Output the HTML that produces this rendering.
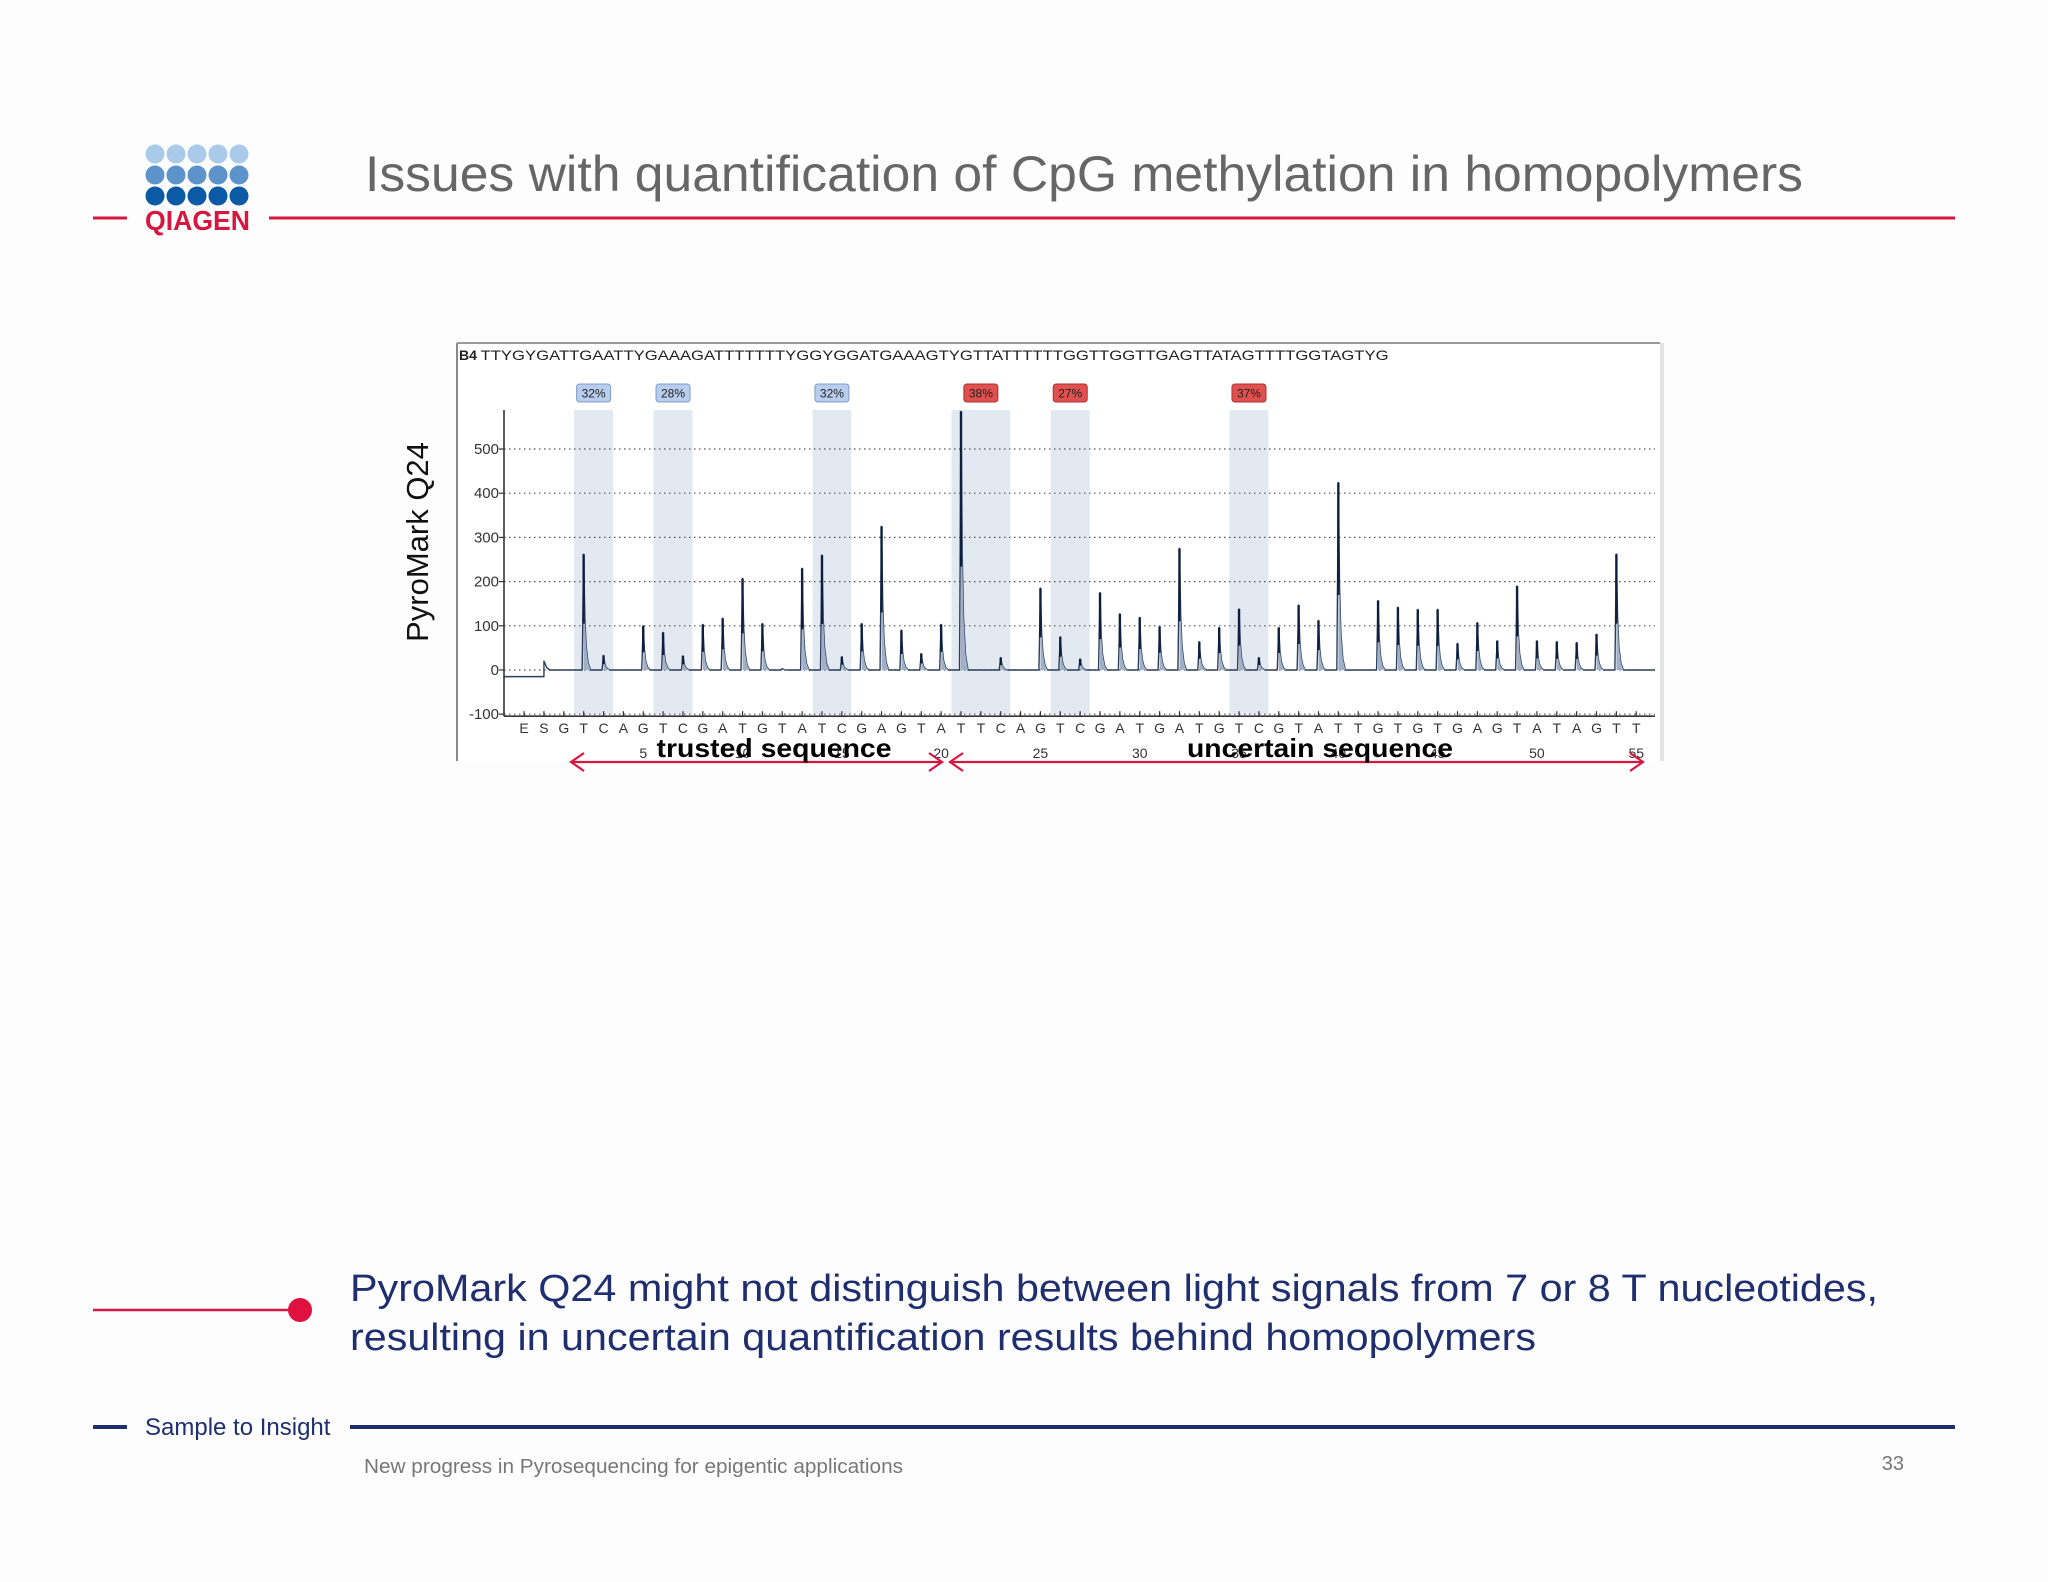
<!DOCTYPE html>
<html><head><meta charset="utf-8"><style>
html,body{margin:0;padding:0;background:#fff}
body{width:2048px;height:1582px;position:relative;overflow:hidden;font-family:"Liberation Sans",sans-serif}
</style></head><body>
<svg width="2048" height="1582" viewBox="0 0 2048 1582" xmlns="http://www.w3.org/2000/svg" style="position:absolute;left:0;top:0">
<rect x="0" y="0" width="2048" height="1582" fill="#fdfdfd"/>
<g>
 <g fill="#a9cbe9"><circle cx="155" cy="154" r="9.5"/><circle cx="176" cy="154" r="9.5"/><circle cx="197" cy="154" r="9.5"/><circle cx="218" cy="154" r="9.5"/><circle cx="239" cy="154" r="9.5"/></g>
 <g fill="#5d93cb"><circle cx="155" cy="175" r="9.5"/><circle cx="176" cy="175" r="9.5"/><circle cx="197" cy="175" r="9.5"/><circle cx="218" cy="175" r="9.5"/><circle cx="239" cy="175" r="9.5"/></g>
 <g fill="#0b5aa6"><circle cx="155" cy="196" r="9.5"/><circle cx="176" cy="196" r="9.5"/><circle cx="197" cy="196" r="9.5"/><circle cx="218" cy="196" r="9.5"/><circle cx="239" cy="196" r="9.5"/></g>
 <text x="145" y="230" font-size="28" font-weight="bold" fill="#d6173f" textLength="105" lengthAdjust="spacingAndGlyphs">QIAGEN</text>
</g>
<text x="365" y="191" font-size="50" fill="#666" textLength="1438" lengthAdjust="spacingAndGlyphs">Issues with quantification of CpG methylation in homopolymers</text>
<line x1="93" y1="218" x2="127" y2="218" stroke="#d6173f" stroke-width="3"/>
<line x1="269" y1="218" x2="1955" y2="218" stroke="#d6173f" stroke-width="3"/>

<g id="chart">
 <rect x="457" y="343" width="1203" height="418" fill="#fff" stroke="none"/>
 <line x1="457" y1="343" x2="1660" y2="343" stroke="#999" stroke-width="2"/>
 <line x1="457" y1="343" x2="457" y2="761" stroke="#888" stroke-width="2"/>
 <line x1="1662" y1="343" x2="1662" y2="761" stroke="#e4e4e4" stroke-width="4"/>
 <text x="459" y="360" font-size="14" fill="#222"><tspan font-weight="bold">B4</tspan> <tspan textLength="908" lengthAdjust="spacingAndGlyphs">TTYGYGATTGAATTYGAAAGATTTTTTTYGGYGGATGAAAGTYGTTATTTTTTGGTTGGTTGAGTTATAGTTTTGGTAGTYG</tspan></text>
 <g id="bands"></g><g id="grid"></g><g id="trace"></g><g id="axes"></g>
</g>
<text transform="translate(428,542) rotate(-90)" font-size="31" fill="#111" text-anchor="middle">PyroMark Q24</text>

<g>
 <g stroke="#d6173f" stroke-width="2.2" fill="none">
  <line x1="571" y1="762" x2="942" y2="762"/>
  <polyline points="584,753 571,762 584,771"/><polyline points="929,753 942,762 929,771"/>
  <line x1="950" y1="762" x2="1643" y2="762"/>
  <polyline points="963,753 950,762 963,771"/><polyline points="1630,753 1643,762 1630,771"/>
 </g>
 <text x="774" y="757" font-size="26" font-weight="bold" fill="#000" text-anchor="middle" textLength="235" lengthAdjust="spacingAndGlyphs">trusted sequence</text>
 <text x="1320" y="757" font-size="26" font-weight="bold" fill="#000" text-anchor="middle" textLength="266" lengthAdjust="spacingAndGlyphs">uncertain sequence</text>
</g>

<line x1="93" y1="1310" x2="300" y2="1310" stroke="#d6173f" stroke-width="2.5"/>
<circle cx="300" cy="1310" r="12" fill="#e0103f"/>
<text x="350" y="1301" font-size="38" fill="#1f2e6e" textLength="1528" lengthAdjust="spacingAndGlyphs">PyroMark Q24 might not distinguish between light signals from 7 or 8 T nucleotides,</text>
<text x="350" y="1350" font-size="38" fill="#1f2e6e" textLength="1186" lengthAdjust="spacingAndGlyphs">resulting in uncertain quantification results behind homopolymers</text>

<line x1="93" y1="1427" x2="127" y2="1427" stroke="#1f2e6e" stroke-width="4"/>
<line x1="350" y1="1427" x2="1955" y2="1427" stroke="#1f2e6e" stroke-width="4"/>
<text x="145" y="1435" font-size="24" fill="#1f2e6e">Sample to Insight</text>
<text x="364" y="1473" font-size="20" fill="#777" textLength="539" lengthAdjust="spacingAndGlyphs">New progress in Pyrosequencing for epigentic applications</text>
<text x="1904" y="1470" font-size="20" fill="#777" text-anchor="end">33</text>
</svg>
<script>
// Dispensation order (first two are E, S at positions -1, 0)
const dispensation = ["E","S","G","T","C","A","G","T","C","G","A","T","G","T","A","T","C","G","A","G","T","A","T","T","C","A","G","T","C","G","A","T","G","A","T","G","T","C","G","T","A","T","T","G","T","G","T","G","A","G","T","A","T","A","G","T","T"];
// Peak heights (RLU) for each dispensation position 1..55
const peakHeights = [0,262,33,0,100,85,32,103,117,207,105,3,230,260,30,105,325,90,37,103,585,0,28,0,185,75,25,175,127,119,98,275,64,96,138,28,96,147,112,424,0,157,142,137,137,60,107,66,190,66,64,62,81,262,0];
const yTicks = [500,400,300,200,100,0,-100];
const xTickLabels = [5,10,15,20,25,30,35,40,45,50,55];
// CpG sites: [start position, end position]
const cpgPositions = [[2,3],[6,7],[14,15],[21,23],[26,27],[35,36]];
const cpgValues = [32,28,32,38,27,37];
const cpgStatus = ["ok","ok","ok","fail","fail","fail"];

const NS="http://www.w3.org/2000/svg";
const AX=504;
const xS = i => 563.8 + (i-1)*19.86;
const yS = v => 670 - v*0.442;
function mk(tag, attrs, parent){const e=document.createElementNS(NS,tag);for(const k in attrs)e.setAttribute(k,attrs[k]);parent.appendChild(e);return e;}

const bands=document.getElementById('bands');
cpgPositions.forEach((p,k)=>{
  const x0=xS(p[0])-9.5, x1=xS(p[1])+9.5;
  const r=mk('rect',{x:x0,y:410,width:x1-x0,height:yS(-100)-410,fill:'#e3e9f1'},bands);
  
  
  const cx=(x0+x1)/2, bad=cpgStatus[k]==='fail';
  const b=mk('rect',{x:cx-17,y:384,width:34,height:18,rx:3,fill:bad?'#e0504e':'#b9cdee',stroke:bad?'#a83030':'#7f9cc8','stroke-width':1},bands);
  
  
  const t=mk('text',{x:cx,y:397.5,'font-size':12,'text-anchor':'middle',fill:'#222'},bands);
  t.textContent=cpgValues[k]+'%';
  
  
});

const grid=document.getElementById('grid');
yTicks.forEach(v=>{
  const y=yS(v);
  const l=mk('line',{x1:AX,y1:y,x2:1655,y2:y,stroke:'#555','stroke-width':1.2,'stroke-dasharray':'1.5 3.5'},grid);
  
  
  const t=mk('text',{x:AX-5,y:y+5,'font-size':15,'text-anchor':'end',fill:'#333'},grid);
  t.textContent=v;
  
  
  mk('line',{x1:AX-5,y1:y,x2:AX,y2:y,stroke:'#333','stroke-width':1.2},grid);
});

const axes=document.getElementById('axes');
const ya=mk('line',{x1:AX,y1:410,x2:AX,y2:yS(-100)+2,stroke:'#333','stroke-width':1.6},axes);


const xa=mk('line',{x1:AX,y1:yS(-100)+2,x2:1655,y2:yS(-100)+2,stroke:'#333','stroke-width':1.6},axes);


dispensation.forEach((d,k)=>{
  const i=k-1, x=xS(i);
  mk('line',{x1:x,y1:yS(-100)-3,x2:x,y2:yS(-100)+2,stroke:'#333','stroke-width':1.2},axes);
  const t=mk('text',{x:x,y:733,'font-size':14,'text-anchor':'middle',fill:'#333'},axes);
  t.textContent=d;
  
  
});
xTickLabels.forEach(n=>{
  const t=mk('text',{x:xS(n),y:758,'font-size':14,'text-anchor':'middle',fill:'#333'},axes);
  t.textContent=n;
  
  
});

// trace
const trace=document.getElementById('trace');
const b0=yS(0);
let d=`M${AX} ${yS(-15)} L${xS(0)} ${yS(-15)} L${xS(0)} ${yS(20)} L${xS(0)+3} ${yS(5)} L${xS(0)+6} ${b0}`;
peakHeights.forEach((h,k)=>{
  const i=k+1,x=xS(i);
  if(h<=0){d+=` L${x+6} ${b0}`;return;}
  d+=` L${x-1.5} ${b0} L${x} ${yS(h)} L${x+1.2} ${yS(h*0.45)} L${x+2.5} ${yS(h*0.2)} L${x+4.5} ${yS(h*0.06)} L${x+7} ${b0}`;
});
d+=` L1655 ${b0}`;
const tp=mk('path',{d:d,fill:'none',stroke:'#2d3e5a','stroke-width':1.4,'stroke-linejoin':'round'},trace);


peakHeights.forEach((h,k)=>{
  if(h<=0)return;
  const x=xS(k+1);
  const f=mk('polygon',{points:`${x},${b0} ${x},${yS(h)} ${x+1.2},${yS(h*0.45)} ${x+2.5},${yS(h*0.2)} ${x+4.5},${yS(h*0.06)} ${x+7},${b0}`,fill:'#9fb0c8'},trace);
  
  
  const l=mk('line',{x1:x,y1:yS(h),x2:x,y2:yS(h*0.4),stroke:'#0e1e3e','stroke-width':2.4},trace);
  
  
});
</script>
</body></html>
